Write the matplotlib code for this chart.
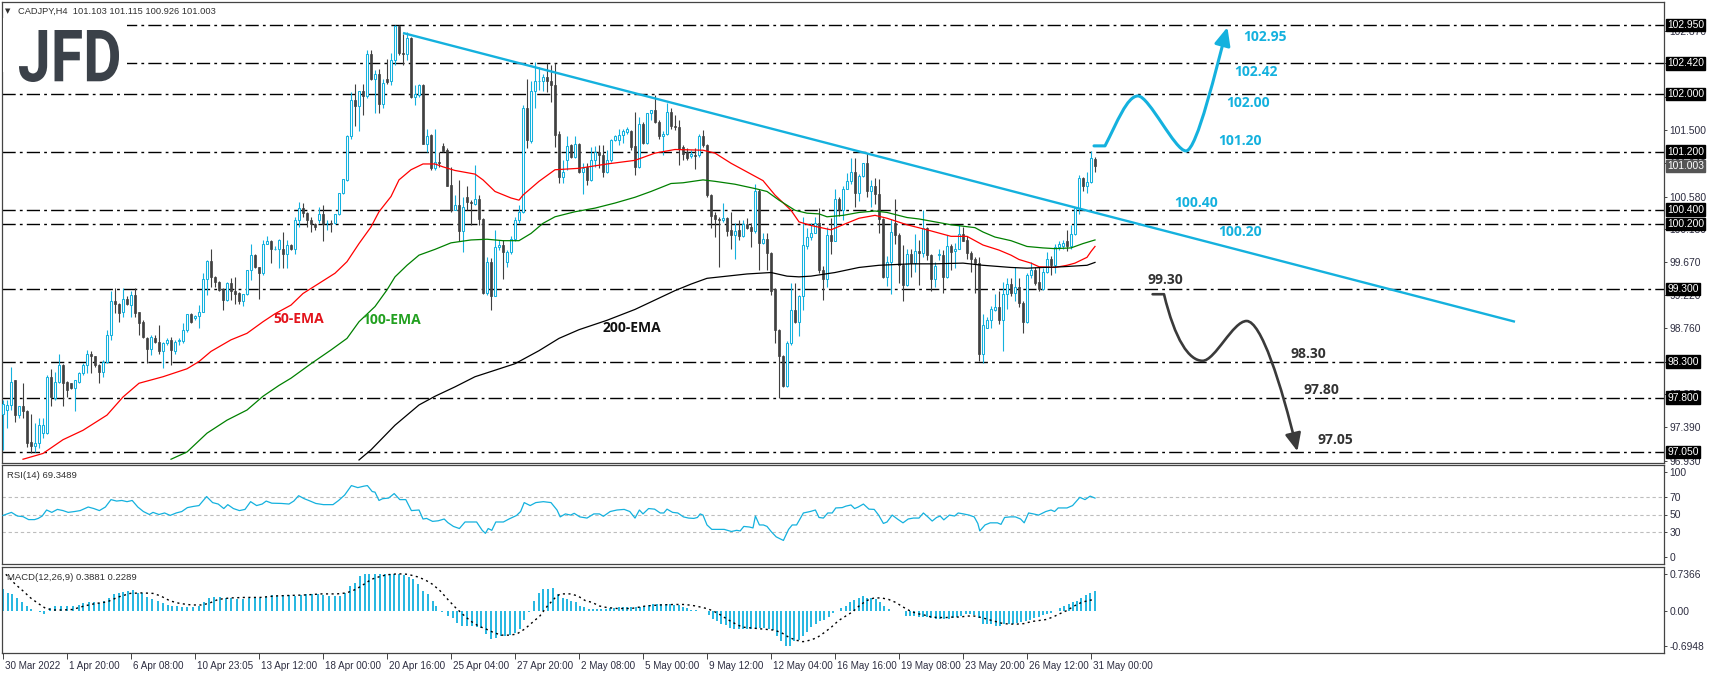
import matplotlib
matplotlib.use("Agg")
import matplotlib.pyplot as plt
import numpy as np
from matplotlib.path import Path
from matplotlib.patches import FancyArrowPatch, PathPatch, Rectangle
from matplotlib.textpath import TextPath
from matplotlib.font_manager import FontProperties
from matplotlib.transforms import Affine2D, ScaledTranslation

plt.rcParams['font.family'] = ['Liberation Sans', 'DejaVu Sans']

# ---- CADJPY H4 candles (bar index 0 = 30 Mar 2022) ----
opens = [97.58, 97.63, 97.70, 98.04, 97.56, 97.68, 97.62, 97.19, 97.13, 97.17,
         97.31, 97.31, 98.09, 97.79, 98.02, 98.25, 98.02, 98.00, 97.93, 98.02,
         98.14, 98.25, 98.41, 98.37, 98.25, 98.16, 98.30, 98.67, 99.13, 99.10,
         98.98, 99.17, 99.08, 99.22, 98.98, 98.84, 98.63, 98.48, 98.63, 98.57,
         98.44, 98.55, 98.60, 98.44, 98.58, 98.59, 98.73, 98.96, 98.90, 98.93,
         98.99, 99.44, 99.69, 99.47, 99.40, 99.30, 99.15, 99.39, 99.28, 99.25,
         99.13, 99.23, 99.56, 99.77, 99.60, 99.52, 99.93, 99.97, 99.85, 99.85,
         99.86, 99.79, 99.91, 99.86, 100.26, 100.42, 100.35, 100.26, 100.20, 100.25,
         100.34, 100.21, 100.21, 100.21, 100.34, 100.63, 100.81, 101.42, 101.92, 101.83,
         102.04, 101.97, 102.55, 102.20, 102.27, 101.86, 102.21, 102.17, 102.47, 102.94,
         102.56, 102.55, 102.77, 101.95, 101.98, 102.12, 101.31, 101.43, 100.97, 101.06,
         101.28, 101.22, 100.74, 100.40, 100.46, 100.10, 100.57, 100.50, 100.48, 100.54,
         100.27, 99.25, 99.68, 99.21, 99.88, 99.91, 99.68, 99.82, 100.00, 100.26,
         100.37, 101.81, 101.35, 102.04, 102.17, 102.18, 102.23, 102.17, 102.12, 101.44,
         100.85, 101.09, 101.29, 101.12, 101.31, 100.92, 100.99, 100.81, 101.09, 101.19,
         101.15, 100.92, 101.08, 101.36, 101.36, 101.43, 101.47, 101.48, 101.28, 100.99,
         101.58, 101.32, 101.73, 101.77, 101.61, 101.41, 101.45, 101.75, 101.55, 101.54,
         101.26, 101.19, 101.14, 101.15, 101.15, 101.42, 101.29, 100.60, 100.33, 100.27,
         100.26, 100.28, 100.12, 100.05, 100.12, 100.03, 100.20, 100.16, 100.11, 100.65,
         99.94, 100.00, 99.80, 99.30, 98.74, 98.38, 97.96, 98.55, 99.01, 98.85,
         99.20, 99.89, 100.02, 100.07, 100.22, 99.56, 99.44, 100.05, 99.97, 100.54,
         100.39, 100.69, 100.79, 100.92, 100.63, 100.86, 101.04, 100.65, 100.73, 100.62,
         100.27, 99.47, 99.68, 100.21, 100.05, 99.63, 99.36, 99.79, 99.66, 99.83,
         99.80, 100.15, 99.77, 99.44, 99.77, 99.77, 99.47, 99.90, 99.83, 99.86,
         100.06, 99.98, 99.80, 99.71, 99.66, 98.40, 98.77, 98.87, 99.01, 99.05,
         98.88, 99.24, 99.37, 99.25, 99.33, 99.11, 98.84, 99.50, 99.57, 99.40,
         99.30, 99.54, 99.71, 99.63, 99.88, 99.89, 99.96, 99.90, 100.06, 100.42,
         100.83, 100.73, 100.78, 101.10]
highs = [97.77, 97.77, 98.23, 98.05, 97.68, 98.00, 97.63, 97.58, 97.45, 97.52,
         97.52, 98.11, 98.20, 98.16, 98.41, 98.26, 98.03, 98.01, 98.04, 98.15,
         98.28, 98.46, 98.44, 98.38, 98.26, 98.32, 98.74, 99.27, 99.31, 99.11,
         99.31, 99.20, 99.27, 99.31, 98.99, 98.87, 98.64, 98.67, 98.67, 98.80,
         98.57, 98.62, 98.64, 98.60, 98.62, 98.83, 98.96, 98.97, 98.94, 99.08,
         99.52, 99.70, 99.85, 99.48, 99.41, 99.31, 99.40, 99.45, 99.47, 99.26,
         99.24, 99.57, 99.92, 99.78, 99.61, 99.98, 100.03, 99.98, 99.89, 100.00,
         100.09, 99.98, 99.93, 100.30, 100.51, 100.49, 100.36, 100.30, 100.21, 100.44,
         100.46, 100.26, 100.26, 100.34, 100.63, 100.82, 101.43, 102.03, 102.14, 102.04,
         102.14, 102.61, 102.60, 102.33, 102.34, 102.20, 102.48, 102.57, 102.95, 102.95,
         102.83, 102.86, 102.79, 102.12, 102.14, 102.13, 101.52, 101.45, 101.52, 101.20,
         101.32, 101.25, 100.99, 100.60, 100.81, 100.58, 100.72, 100.53, 101.02, 100.60,
         100.28, 99.74, 99.73, 100.12, 99.98, 99.98, 99.84, 100.03, 100.30, 100.46,
         101.84, 102.21, 102.17, 102.44, 102.37, 102.28, 102.42, 102.40, 102.42, 101.48,
         101.08, 101.41, 101.31, 101.41, 101.32, 101.04, 101.04, 101.27, 101.28, 101.29,
         101.29, 101.22, 101.38, 101.43, 101.51, 101.51, 101.54, 101.50, 101.75, 101.68,
         101.61, 101.74, 101.78, 101.98, 101.64, 101.48, 101.87, 101.80, 101.71, 101.64,
         101.29, 101.25, 101.22, 101.25, 101.45, 101.50, 101.30, 100.61, 100.37, 100.30,
         100.49, 100.30, 100.36, 100.22, 100.26, 100.26, 100.28, 100.21, 100.75, 100.69,
         100.07, 100.07, 99.81, 99.31, 98.75, 98.39, 98.59, 99.38, 99.38, 99.22,
         100.30, 100.14, 100.22, 100.30, 100.42, 99.62, 100.16, 100.28, 100.69, 100.58,
         100.72, 100.90, 101.11, 101.11, 100.89, 101.05, 101.18, 100.81, 100.83, 100.82,
         100.28, 99.76, 100.27, 100.55, 100.07, 99.91, 99.85, 99.86, 100.06, 99.98,
         100.39, 100.16, 99.79, 99.68, 99.86, 99.84, 100.05, 99.92, 99.94, 100.19,
         100.16, 100.03, 99.83, 99.74, 99.74, 98.96, 98.92, 99.07, 99.24, 99.28,
         99.40, 99.46, 99.46, 99.61, 99.46, 99.14, 99.53, 99.67, 99.61, 99.61,
         99.59, 99.82, 99.76, 99.92, 99.96, 99.98, 100.12, 100.19, 100.44, 100.88,
         100.85, 100.92, 101.21, 101.13]
lows = [97.08, 97.38, 97.63, 97.47, 97.52, 97.52, 97.12, 97.03, 97.05, 97.10,
        97.24, 97.30, 97.68, 97.77, 98.00, 97.68, 97.81, 97.92, 97.61, 98.00,
        98.11, 98.14, 98.14, 98.23, 98.00, 98.09, 98.28, 98.60, 98.97, 98.85,
        98.92, 99.08, 98.92, 98.92, 98.67, 98.63, 98.28, 98.39, 98.55, 98.41,
        98.21, 98.53, 98.25, 98.41, 98.53, 98.55, 98.71, 98.83, 98.87, 98.76,
        98.98, 99.22, 99.33, 99.33, 99.27, 99.01, 99.14, 99.15, 99.10, 99.10,
        99.07, 99.22, 99.43, 99.59, 99.16, 99.50, 99.92, 99.66, 99.84, 99.59,
        99.59, 99.59, 99.84, 99.79, 100.16, 100.30, 100.16, 100.09, 100.12, 100.21,
        99.96, 100.12, 100.09, 100.20, 100.33, 100.62, 100.79, 101.38, 101.55, 101.48,
        101.71, 101.94, 102.19, 101.73, 101.73, 101.80, 102.14, 102.12, 102.40, 102.54,
        102.40, 102.47, 101.94, 101.84, 101.96, 101.30, 101.20, 100.94, 100.95, 100.99,
        101.20, 100.72, 100.37, 100.39, 99.96, 99.81, 100.39, 100.19, 100.46, 100.19,
        99.23, 99.22, 99.01, 99.20, 99.84, 99.44, 99.61, 99.79, 99.96, 100.21,
        100.35, 101.25, 101.32, 101.80, 102.05, 102.04, 102.03, 101.89, 101.27, 100.77,
        100.77, 100.95, 101.11, 101.11, 100.91, 100.61, 100.74, 100.80, 100.99, 100.97,
        100.85, 100.90, 101.06, 101.35, 101.29, 101.32, 101.45, 101.22, 100.88, 100.97,
        101.31, 101.31, 101.64, 101.60, 101.38, 101.15, 101.43, 101.52, 101.50, 101.02,
        101.08, 101.08, 101.11, 100.96, 101.13, 101.27, 100.58, 100.15, 100.02, 99.60,
        100.23, 100.03, 99.85, 99.71, 99.98, 100.02, 100.13, 99.88, 100.08, 99.57,
        99.92, 99.57, 99.22, 98.55, 97.79, 97.95, 97.95, 98.53, 98.83, 98.65,
        99.01, 99.86, 99.98, 100.07, 99.52, 99.15, 99.33, 99.79, 99.96, 100.31,
        100.26, 100.68, 100.76, 100.43, 100.52, 100.85, 100.57, 100.43, 100.48, 100.07,
        99.45, 99.34, 99.23, 99.92, 99.39, 99.13, 99.34, 99.47, 99.54, 99.36,
        99.75, 99.70, 99.27, 99.33, 99.70, 99.25, 99.46, 99.56, 99.59, 99.85,
        99.96, 99.71, 99.54, 99.25, 98.31, 98.28, 98.76, 98.76, 99.00, 98.82,
        98.45, 99.02, 99.21, 99.13, 99.05, 98.69, 98.83, 99.46, 99.36, 99.28,
        99.29, 99.52, 99.50, 99.53, 99.84, 99.86, 99.83, 99.85, 100.05, 100.34,
        100.65, 100.63, 100.77, 100.92]
closes = [97.72, 97.70, 98.02, 97.56, 97.68, 97.61, 97.17, 97.13, 97.18, 97.42,
          97.42, 98.09, 97.81, 98.02, 98.25, 98.00, 97.91, 97.93, 98.04, 98.14,
          98.25, 98.41, 98.37, 98.25, 98.16, 98.30, 98.67, 99.13, 99.10, 98.97,
          99.17, 99.10, 99.22, 98.97, 98.83, 98.64, 98.48, 98.64, 98.57, 98.44,
          98.55, 98.60, 98.46, 98.57, 98.60, 98.73, 98.96, 98.85, 98.93, 98.99,
          99.44, 99.69, 99.47, 99.40, 99.29, 99.15, 99.39, 99.27, 99.23, 99.14,
          99.23, 99.56, 99.77, 99.60, 99.52, 99.93, 99.97, 99.85, 99.86, 99.98,
          99.79, 99.91, 99.86, 100.26, 100.42, 100.35, 100.26, 100.20, 100.16, 100.34,
          100.20, 100.21, 100.20, 100.34, 100.63, 100.82, 101.42, 101.92, 101.83, 102.04,
          101.97, 102.55, 102.20, 102.27, 101.86, 102.15, 102.16, 102.47, 102.94, 102.56,
          102.55, 102.77, 101.95, 102.00, 102.12, 101.31, 101.42, 100.97, 101.06, 101.04,
          101.21, 100.73, 100.40, 100.46, 100.10, 100.44, 100.50, 100.49, 100.54, 100.27,
          99.25, 99.68, 99.21, 99.88, 99.91, 99.81, 99.81, 100.00, 100.26, 100.37,
          101.81, 101.36, 102.04, 102.18, 102.18, 102.23, 102.17, 102.12, 101.43, 100.85,
          100.92, 101.28, 101.12, 101.31, 100.92, 100.98, 100.81, 101.09, 101.19, 101.15,
          100.92, 101.09, 101.36, 101.41, 101.43, 101.48, 101.51, 101.27, 100.99, 101.58,
          101.32, 101.73, 101.77, 101.61, 101.41, 101.45, 101.75, 101.55, 101.54, 101.23,
          101.17, 101.11, 101.17, 101.14, 101.42, 101.29, 100.60, 100.31, 100.27, 100.26,
          100.28, 100.11, 100.05, 100.11, 100.03, 100.20, 100.15, 100.11, 100.65, 99.94,
          100.00, 99.80, 99.27, 98.74, 98.37, 97.96, 98.56, 99.01, 98.85, 99.20,
          99.91, 100.02, 100.08, 100.21, 99.56, 99.44, 100.05, 99.97, 100.54, 100.39,
          100.69, 100.79, 100.92, 100.63, 100.86, 101.04, 100.65, 100.73, 100.62, 100.27,
          99.47, 99.68, 100.09, 100.05, 99.63, 99.36, 99.78, 99.66, 99.83, 99.80,
          100.14, 99.77, 99.44, 99.62, 99.78, 99.47, 99.90, 99.82, 99.86, 100.06,
          99.97, 99.80, 99.71, 99.66, 98.40, 98.80, 98.88, 99.02, 99.05, 98.88,
          99.24, 99.37, 99.25, 99.33, 99.11, 98.84, 99.50, 99.57, 99.39, 99.30,
          99.54, 99.71, 99.63, 99.88, 99.92, 99.94, 99.90, 100.06, 100.42, 100.83,
          100.73, 100.78, 101.11, 101.00]

# ---- moving averages (bar, price) ----
ema50_x = [5, 10, 15, 20, 26, 30, 34, 40, 46, 49, 52, 57, 61, 65, 68, 72, 75, 79, 83, 86,
           89, 92, 94, 97, 99, 102, 105, 108, 110, 113, 118, 120, 123, 127, 129, 130, 134, 138, 144, 151,
           158, 163, 168, 175, 178, 182, 187, 190, 193, 197, 199, 202, 207, 210, 214, 218, 221, 226, 231, 237,
           241, 245, 249, 252, 254, 257, 259, 263, 266, 268, 271, 272, 273]
ema50_y = [96.95, 97.03, 97.22, 97.35, 97.56, 97.81, 98.00, 98.09, 98.20, 98.30, 98.44, 98.60, 98.69, 98.85, 98.96, 99.08, 99.24, 99.38, 99.52, 99.68,
           99.93, 100.16, 100.37, 100.58, 100.81, 100.95, 101.03, 101.03, 100.99, 100.94, 100.89, 100.81, 100.65, 100.56, 100.53, 100.60, 100.79, 100.95, 100.97, 101.03,
           101.08, 101.18, 101.23, 101.22, 101.18, 101.04, 100.89, 100.80, 100.60, 100.39, 100.23, 100.18, 100.12, 100.19, 100.28, 100.32, 100.28, 100.19, 100.12, 100.03,
           100.03, 99.91, 99.84, 99.77, 99.71, 99.66, 99.61, 99.60, 99.63, 99.66, 99.74, 99.82, 99.89]
ema100_x = [42, 46, 51, 56, 61, 65, 69, 72, 77, 82, 86, 89, 93, 96, 98, 101, 104, 108, 112, 117,
            121, 125, 129, 132, 135, 138, 143, 148, 153, 158, 162, 167, 170, 175, 178, 183, 188, 191, 194, 198,
            201, 204, 206, 210, 214, 218, 221, 226, 229, 233, 237, 240, 243, 245, 248, 252, 256, 260, 263, 267,
            270, 273]
ema100_y = [96.95, 97.05, 97.31, 97.49, 97.63, 97.82, 97.97, 98.07, 98.27, 98.46, 98.62, 98.85, 99.06, 99.29, 99.47, 99.63, 99.77, 99.85, 99.94, 99.98,
            99.99, 99.97, 99.97, 100.07, 100.21, 100.30, 100.37, 100.42, 100.49, 100.57, 100.65, 100.76, 100.77, 100.81, 100.79, 100.75, 100.69, 100.65, 100.53, 100.39,
            100.35, 100.34, 100.30, 100.32, 100.36, 100.38, 100.36, 100.29, 100.27, 100.23, 100.19, 100.17, 100.15, 100.09, 100.02, 99.97, 99.89, 99.87, 99.86, 99.87,
            99.93, 99.98]
ema200_x = [89, 92, 98, 104, 108, 113, 118, 123, 128, 134, 139, 144, 151, 158, 163, 168, 172, 176, 181, 186,
            192, 196, 199, 202, 208, 214, 219, 227, 233, 240, 245, 252, 256, 260, 265, 268, 271, 273]
ema200_y = [96.94, 97.08, 97.42, 97.70, 97.82, 97.95, 98.09, 98.18, 98.27, 98.45, 98.62, 98.74, 98.87, 99.02, 99.15, 99.28, 99.37, 99.45, 99.48, 99.51,
            99.53, 99.48, 99.47, 99.48, 99.53, 99.60, 99.63, 99.65, 99.65, 99.66, 99.63, 99.60, 99.59, 99.60, 99.61, 99.62, 99.63, 99.67]

trend_x = [100, 378]
trend_y = [102.84, 98.85]

levels = [102.95, 102.42, 102.00, 101.20, 100.40, 100.20, 99.30, 98.30, 97.80, 97.05]
last_price = 101.003
price_ticks = [96.93, 97.39, 97.85, 98.30, 98.76, 99.22, 99.67, 100.13, 100.58, 101.04, 101.50, 101.95, 102.42, 102.87]

# ---- RSI(14) ----
rsi_x = [0, 2.1, 3.6, 5.0, 6.4, 7.9, 8.8, 9.8, 10.9, 12.2, 13.6, 15.0, 16.3, 17.9, 19.3, 21.3, 22.7, 24.1, 25.6, 27.0,
         28.4, 29.7, 31.0, 32.3, 33.7, 35.1, 36.6, 37.5, 39.0, 40.4, 41.8, 43.3, 44.7, 46.1, 47.6, 49.0, 50.9, 52.4, 53.8, 55.2,
         56.2, 57.6, 59.1, 60.5, 61.9, 63.4, 64.8, 65.8, 67.2, 69.6, 71.5, 72.7, 73.9, 75.3, 76.8, 78.2, 80.1, 82.5, 83.9, 85.4,
         87.1, 88.7, 90.2, 91.1, 92.3, 93.0, 94.0, 94.9, 96.4, 97.8, 99.2, 100.7, 102.1, 104.0, 105.0, 105.9, 107.4, 108.8, 110.3, 111.2,
         112.6, 114.1, 115.5, 117.0, 118.4, 119.8, 120.6, 121.3, 122.2, 123.2, 125.1, 126.5, 128.4, 129.4, 130.3, 131.8, 133.2, 135.1, 137.0, 138.5,
         139.3, 140.6, 141.9, 142.8, 144.2, 146.0, 147.7, 149.1, 150.1, 151.8, 153.5, 155.3, 156.7, 158.0, 159.1, 160.0, 161.4, 162.9, 164.3, 165.2,
         166.0, 167.4, 168.7, 170.1, 171.4, 172.7, 173.6, 174.3, 175.0, 176.0, 177.2, 178.5, 180.3, 182.1, 183.4, 184.3, 185.2, 186.6, 187.5, 188.1,
         189.1, 190.1, 191.0, 192.1, 193.3, 195.1, 196.4, 197.3, 198.4, 200.1, 201.8, 203.1, 204.0, 205.1, 206.2, 207.3, 208.2, 209.8, 210.7, 212.0,
         212.9, 213.8, 215.1, 216.5, 217.8, 218.9, 220.1, 221.0, 222.3, 223.6, 225.0, 226.3, 227.6, 229.0, 230.1, 231.2, 232.3, 233.4, 234.3, 235.2,
         236.6, 237.9, 238.8, 240.1, 241.5, 242.8, 243.7, 244.2, 245.5, 246.8, 248.6, 249.5, 250.4, 251.8, 253.1, 254.4, 255.3, 256.4, 257.6, 258.9,
         260.7, 262.0, 262.9, 263.8, 266.0, 267.4, 269.2, 270.5, 271.8, 273]
rsi_y = [48.9, 52.5, 48.2, 47.5, 44.0, 44.0, 45.4, 48.2, 55.3, 52.5, 56.0, 54.6, 52.5, 53.5, 54.6, 58.8, 57.0, 54.6, 58.8, 67.5,
         65.8, 66.5, 65.1, 66.5, 58.8, 53.5, 50.0, 52.5, 50.0, 51.8, 48.9, 51.8, 53.5, 58.1, 59.5, 60.5, 71.1, 64.0, 62.3, 57.0,
         61.6, 57.0, 54.6, 56.0, 65.1, 60.5, 62.3, 65.8, 63.3, 63.0, 62.3, 65.8, 72.1, 68.6, 65.8, 63.0, 61.6, 61.6, 66.5, 72.8,
         84.0, 81.6, 83.3, 84.0, 77.0, 76.3, 66.5, 68.6, 69.3, 74.6, 67.5, 67.5, 54.6, 55.3, 44.7, 45.4, 41.9, 42.6, 44.7, 40.5,
         36.0, 33.5, 41.2, 41.2, 41.2, 31.4, 27.9, 33.5, 31.4, 41.2, 41.2, 44.7, 48.9, 53.5, 64.0, 60.5, 64.0, 65.1, 64.0, 55.3,
         47.2, 50.7, 49.3, 51.4, 47.2, 45.8, 50.7, 50.7, 47.9, 53.5, 55.3, 56.0, 53.5, 45.8, 55.3, 50.7, 57.0, 56.3, 51.8, 51.8,
         56.3, 52.5, 51.8, 47.2, 45.8, 45.4, 46.5, 50.7, 49.3, 37.7, 32.5, 32.5, 32.5, 30.0, 31.4, 30.7, 36.0, 35.3, 34.2, 48.2,
         37.7, 37.7, 36.0, 29.6, 23.7, 19.5, 32.5, 37.7, 37.7, 51.8, 53.5, 55.3, 46.5, 45.8, 51.8, 51.8, 57.7, 58.1, 59.8, 61.2,
         57.0, 58.8, 62.3, 56.3, 56.0, 49.3, 39.5, 41.2, 49.3, 44.7, 40.2, 44.7, 45.8, 45.8, 51.8, 47.2, 42.3, 46.5, 48.2, 43.7,
         49.3, 48.2, 51.8, 50.7, 49.3, 47.2, 39.5, 30.7, 37.7, 40.2, 40.2, 38.4, 46.5, 47.2, 47.2, 44.7, 40.2, 51.8, 50.7, 49.3,
         53.5, 55.3, 53.5, 57.7, 57.7, 60.5, 70.2, 67.5, 71.6, 69.3]

# ---- MACD(12,26,9) ----
macd_x = [0.0, 1.2, 2.3, 3.6, 4.8, 5.9, 7.1, 8.3, 9.3, 10.3, 11.7, 13.1, 14.6, 16.0, 17.4, 18.9, 20.1, 21.5, 22.7, 23.9,
          25.3, 26.5, 27.8, 28.9, 30.1, 31.3, 32.6, 33.7, 34.8, 36.1, 37.3, 38.7, 39.9, 41.2, 42.3, 43.5, 44.7, 46.1, 47.6, 49.0,
          50.3, 51.4, 52.8, 54.3, 55.7, 57.1, 58.6, 60.0, 61.4, 62.9, 64.3, 65.8, 67.2, 68.6, 70.1, 71.5, 72.9, 74.4, 75.8, 77.2,
          78.7, 80.1, 81.5, 83.0, 84.2, 85.6, 86.8, 88.1, 89.2, 90.6, 91.6, 93.0, 94.3, 95.4, 96.7, 97.8, 99.1, 100.2, 101.4, 102.6,
          103.7, 105.0, 106.2, 107.4, 108.3, 109.8, 111.2, 112.4, 113.6, 114.8, 116.0, 117.2, 118.4, 119.6, 120.8, 122.0, 123.2, 124.4, 125.6, 126.8,
          127.9, 129.2, 130.3, 131.6, 132.7, 134.0, 135.1, 136.3, 137.5, 138.8,
          140.0, 141.0, 142.1, 143.2, 144.3, 145.3, 146.4, 147.5, 148.5, 149.6, 150.7, 151.8, 152.8, 153.9, 155.0, 156.0, 157.1, 158.2, 159.3, 160.3,
          161.4, 162.5, 163.5, 164.6, 165.7, 166.8, 167.8, 168.9, 170.0, 171.0, 172.1, 173.2, 174.3, 175.3, 176.4, 177.5, 178.5, 179.6, 180.7, 181.8,
          182.8, 183.9, 185.0, 186.0, 187.1, 188.2, 189.3, 190.3, 191.4, 192.5, 193.5, 194.6, 195.7, 196.8, 197.8, 198.9, 200.0, 201.0, 202.1, 203.2,
          204.3, 205.3, 206.4, 207.5, 208.5, 209.6, 210.7, 211.8, 212.8, 213.9, 215.0, 216.0, 217.1, 218.2, 219.3, 220.3, 221.4, 222.5, 223.5, 224.6,
          225.7, 226.8, 227.8, 228.9, 230.0, 231.0, 232.1, 233.2, 234.3, 235.3, 236.4, 237.5, 238.5, 239.6, 240.7, 241.8, 242.8, 243.9, 245.0, 246.0,
          247.1, 248.2, 249.3, 250.3, 251.4, 252.5, 253.5, 254.6, 255.7, 256.8, 257.8, 258.9, 260.0, 261.0, 262.1, 263.2, 264.3, 265.3, 266.4, 267.5,
          268.5, 269.6, 270.7, 271.8, 273.0]
macd_h = [0.43, 0.35, 0.33, 0.25, 0.17, 0.10, 0.03, 0.01, -0.02, -0.05, 0.05, 0.09, 0.09, 0.10, 0.10, 0.11, 0.15, 0.18, 0.17, 0.15,
          0.20, 0.26, 0.33, 0.36, 0.38, 0.40, 0.41, 0.36, 0.35, 0.28, 0.23, 0.20, 0.15, 0.11, 0.10, 0.09, 0.07, 0.07, 0.07, 0.10,
          0.18, 0.26, 0.28, 0.28, 0.26, 0.25, 0.23, 0.23, 0.25, 0.25, 0.26, 0.28, 0.31, 0.30, 0.31, 0.31, 0.30, 0.31, 0.33, 0.33,
          0.33, 0.31, 0.30, 0.30, 0.30, 0.36, 0.50, 0.56, 0.70, 0.74, 0.74, 0.74, 0.74, 0.73, 0.73, 0.73, 0.73, 0.71, 0.68, 0.63,
          0.53, 0.40, 0.33, 0.20, 0.10, -0.01, -0.09, -0.13, -0.23, -0.30, -0.30, -0.30, -0.31, -0.33, -0.46, -0.56, -0.53, -0.50, -0.50, -0.48,
          -0.44, -0.35, -0.17, -0.01, 0.20, 0.36, 0.43, 0.44, 0.46, 0.33,
          0.25, 0.23, 0.20, 0.18, 0.10, 0.08, 0.03, 0.03, 0.03, 0.03, 0.03, 0.05, 0.05, 0.07, 0.07, 0.08, 0.08, 0.07, 0.08, 0.10,
          0.12, 0.13, 0.13, 0.13, 0.13, 0.13, 0.12, 0.12, 0.08, 0.05, 0.02, 0.02, 0.005, 0.005, -0.07, -0.15, -0.20, -0.25, -0.28, -0.34,
          -0.36, -0.36, -0.35, -0.35, -0.35, -0.35, -0.34, -0.34, -0.36, -0.38, -0.50, -0.60, -0.69, -0.69, -0.60, -0.58, -0.50, -0.41, -0.32, -0.25,
          -0.20, -0.17, -0.12, -0.03, 0.01, 0.05, 0.10, 0.17, 0.21, 0.25, 0.30, 0.26, 0.26, 0.23, 0.17, 0.10, 0.03, 0.01, 0.01, -0.005,
          -0.10, -0.10, -0.10, -0.12, -0.12, -0.12, -0.13, -0.15, -0.15, -0.15, -0.15, -0.13, -0.12, -0.10, -0.05, -0.05, -0.07, -0.13, -0.25, -0.26,
          -0.26, -0.30, -0.30, -0.26, -0.25, -0.25, -0.23, -0.21, -0.19, -0.17, -0.13, -0.12, -0.08, -0.05, -0.03, 0.005, 0.05, 0.10, 0.13, 0.17,
          0.20, 0.26, 0.31, 0.35, 0.39]
sig_x = [0.7, 3.1, 5.0, 6.9, 8.8, 10.7, 12.6, 15.0, 17.4, 20.3, 23.2, 26.0, 28.9, 31.8, 34.7, 37.5, 39.4, 41.8, 44.2, 47.1,
         49.5, 51.4, 53.8, 56.7, 60.5, 64.3, 68.2, 72.0, 75.8, 79.6, 83.5, 85.9, 88.2, 90.2, 92.1, 94.0, 95.9, 98.8, 101.2, 103.6,
         105.5, 107.4, 109.3, 111.2, 113.1, 115.0, 116.9, 118.9, 120.8, 122.7, 124.6, 126.5, 128.4, 130.4, 132.3, 134.2, 136.1, 138.0, 139.3, 141.9,
         143.7, 145.5, 147.3, 149.1, 150.9, 153.5, 157.1, 160.7, 164.3, 167.8, 170.5, 173.2, 175.9, 177.6, 179.4, 181.2, 183.0, 184.8, 187.5, 190.1,
         192.8, 194.6, 196.4, 198.2, 200.0, 201.8, 203.5, 205.3, 207.1, 208.9, 210.7, 212.5, 214.3, 216.0, 217.8, 219.6, 221.4, 223.2, 225.0, 226.8,
         228.5, 230.3, 232.1, 233.9, 235.7, 237.5, 239.3, 241.0, 242.8, 244.6, 246.4, 248.2, 250.0, 251.8, 253.5, 255.3, 257.1, 258.9, 260.7, 262.5,
         264.3, 266.0, 267.8, 269.6, 271.4, 273.0]
sig_y = [0.73, 0.53, 0.40, 0.26, 0.15, 0.05, 0.02, 0.02, 0.03, 0.10, 0.15, 0.18, 0.28, 0.35, 0.36, 0.35, 0.30, 0.20, 0.15, 0.12,
         0.12, 0.15, 0.23, 0.26, 0.27, 0.27, 0.30, 0.31, 0.32, 0.34, 0.34, 0.36, 0.43, 0.53, 0.63, 0.68, 0.72, 0.74, 0.73, 0.68,
         0.62, 0.53, 0.40, 0.23, 0.07, -0.07, -0.20, -0.30, -0.36, -0.43, -0.48, -0.48, -0.46, -0.36, -0.23, -0.10, 0.10, 0.26, 0.34, 0.34,
         0.30, 0.21, 0.17, 0.10, 0.07, 0.05, 0.05, 0.10, 0.12, 0.13, 0.13, 0.10, 0.05, 0.00, -0.08, -0.17, -0.25, -0.32, -0.34, -0.36,
         -0.38, -0.43, -0.52, -0.58, -0.61, -0.58, -0.53, -0.43, -0.32, -0.19, -0.10, -0.01, 0.12, 0.21, 0.26, 0.26, 0.23, 0.17, 0.08, 0.00,
         -0.05, -0.08, -0.12, -0.13, -0.13, -0.12, -0.12, -0.10, -0.10, -0.13, -0.17, -0.21, -0.25, -0.26, -0.26, -0.25, -0.21, -0.19, -0.17, -0.12,
         -0.05, 0.01, 0.10, 0.17, 0.21, 0.23]

date_labels = ['30 Mar 2022', '1 Apr 20:00', '6 Apr 08:00', '10 Apr 23:05', '13 Apr 12:00', '18 Apr 00:00',
               '20 Apr 16:00', '25 Apr 04:00', '27 Apr 20:00', '2 May 08:00', '5 May 00:00', '9 May 12:00',
               '12 May 04:00', '16 May 16:00', '19 May 08:00', '23 May 20:00', '26 May 12:00', '31 May 00:00']
date_bars = [16 * i for i in range(len(date_labels))]

# ---- scenario drawings (bar, price control points) ----
up_path = [(272.75, 101.28), (275.5, 101.28), (278.5, 101.6), (281.0, 101.97), (283.75, 101.97),
           (286.5, 101.97), (293.0, 101.21), (295.75, 101.21), (298.5, 101.21), (303.5, 102.4), (306.1, 102.92)]
down_path = [(287.4, 99.23), (290.25, 99.23), (293.0, 98.6), (296.5, 98.31), (299.9, 98.31),
             (303.0, 98.31), (307.5, 98.86), (310.9, 98.86), (314.5, 98.86), (319.5, 98.0), (323.6, 97.06)]
up_labels = [('102.95', 310.0, 102.79), ('102.42', 307.9, 102.30), ('102.00', 305.9, 101.87),
             ('101.20', 303.9, 101.35), ('100.40', 292.9, 100.49), ('100.20', 303.9, 100.09)]
down_labels = [('99.30', 286.0, 99.43), ('98.30', 321.75, 98.40), ('97.80', 325.0, 97.91), ('97.05', 328.5, 97.21)]
ema_labels = [('50-EMA', 67.5, 98.89, '#E3141C'), ('100-EMA', 89.9, 98.87, '#22A020'), ('200-EMA', 150.0, 98.76, '#111111')]

CYAN = '#14B1DE'
DARK = '#404040'
W, H = 1710, 674
fig = plt.figure(figsize=(W / 100, H / 100), dpi=100)


def px_axes(x0, y0, x1, y1):
    return fig.add_axes([x0 / W, 1 - y1 / H, (x1 - x0) / W, (y1 - y0) / H])


ax = px_axes(2, 2, 1664, 463)
ax_rsi = px_axes(2, 465, 1664, 564)
ax_macd = px_axes(2, 567, 1664, 653)

for a in (ax, ax_rsi, ax_macd):
    a.set_xlim(-0.25, 415.25)
    for s in a.spines.values():
        s.set_color('#444444')
        s.set_linewidth(0.9)
    a.yaxis.tick_right()
    a.tick_params(axis='y', direction='out', length=2.5, width=0.7, pad=1.2,
                  labelsize=7.4, labelcolor='#2d2d40', color='#444444')
    a.tick_params(axis='x', bottom=False, labelbottom=False)

# main price panel
ax.set_ylim(96.898, 103.268)
ax.set_yticks(price_ticks)
ax.set_yticklabels(['%.3f' % t for t in price_ticks])

for lv in levels:
    ax.axhline(lv, color='black', lw=1.0, linestyle=(0, (9.5, 3, 2, 3)), zorder=1)

o, h, l, c = map(np.array, (opens, highs, lows, closes))
idx = np.arange(len(c))
up = c >= o
body_lo = np.minimum(o, c)
body_h = np.maximum(np.abs(c - o), 0.006)
ax.vlines(idx[up], l[up], h[up], color=CYAN, lw=0.8, zorder=3)
ax.vlines(idx[~up], l[~up], h[~up], color=DARK, lw=0.8, zorder=3)
ax.bar(idx[up], body_h[up], bottom=body_lo[up], width=0.5, facecolor='white',
       edgecolor=CYAN, lw=0.75, zorder=4)
ax.bar(idx[~up], body_h[~up], bottom=body_lo[~up], width=0.62, facecolor=DARK,
       edgecolor=DARK, lw=0.5, zorder=4)

ax.plot(ema50_x, ema50_y, color='#FF0000', lw=0.9, zorder=5)
ax.plot(ema100_x, ema100_y, color='#008000', lw=0.9, zorder=5)
ax.plot(ema200_x, ema200_y, color='black', lw=0.9, zorder=5)
ax.plot(trend_x, trend_y, color=CYAN, lw=1.7, zorder=6, solid_capstyle='butt')

for txt, x, y, col in ema_labels:
    ax.text(x, y, txt, color=col, fontsize=10, fontweight='bold', family='Open Sans',
            ha='left', va='center', zorder=7)


def bezier(points):
    codes = [Path.MOVETO, Path.LINETO] + [Path.CURVE4] * (len(points) - 2)
    return Path(points, codes)


ax.add_patch(FancyArrowPatch(path=bezier(up_path), arrowstyle='-|>,head_length=0.45,head_width=0.2',
                             mutation_scale=24, color=CYAN, lw=2.2, zorder=8, clip_on=False))
ax.add_patch(FancyArrowPatch(path=bezier(down_path), arrowstyle='-|>,head_length=0.45,head_width=0.2',
                             mutation_scale=24, color='#3a3a3a', lw=1.9, zorder=8, clip_on=False))
for txt, x, y in up_labels:
    ax.text(x, y, txt, color=CYAN, fontsize=10, fontweight='bold', family='Open Sans',
            ha='left', va='center', zorder=9)
for txt, x, y in down_labels:
    ax.text(x, y, txt, color='#333333', fontsize=10, fontweight='bold', family='Open Sans',
            ha='left', va='center', zorder=9)

# level boxes on the price scale
for lv in levels:
    ax.annotate('%.3f' % lv, xy=(1, lv), xycoords=('axes fraction', 'data'), xytext=(3, 0),
                textcoords='offset pixels', ha='left', va='center', fontsize=7.4, color='white',
                bbox=dict(boxstyle='square,pad=0.12', fc='black', ec='black'), annotation_clip=False, zorder=10)
ax.annotate('%.3f' % last_price, xy=(1, last_price), xycoords=('axes fraction', 'data'), xytext=(3, 0),
            textcoords='offset pixels', ha='left', va='center', fontsize=7.4, color='white',
            bbox=dict(boxstyle='square,pad=0.12', fc='#555555', ec='#555555'), annotation_clip=False, zorder=10)

# RSI panel
ax_rsi.set_ylim(-8.2, 108.2)
ax_rsi.set_yticks([0, 30, 50, 70, 100])
ax_rsi.set_yticklabels(['0', '30', '50', '70', '100'])
for lv in (30, 50, 70):
    ax_rsi.axhline(lv, color='#bdbdbd', lw=0.8, linestyle=(0, (3, 2.5)), zorder=1)
ax_rsi.plot(rsi_x, rsi_y, color=CYAN, lw=0.9, zorder=3)

# MACD panel
ax_macd.set_ylim(-0.835, 0.875)
ax_macd.set_yticks([-0.6948, 0.0, 0.7366])
ax_macd.set_yticklabels(['-0.6948', '0.00', '0.7366'])
ax_macd.vlines(macd_x, 0, macd_h, color=CYAN, lw=1.3, zorder=2)
ax_macd.plot(sig_x, sig_y, color='black', lw=1.0, linestyle=(0, (1.5, 2.5)), zorder=3)

ax_macd.tick_params(axis='x', bottom=True, labelbottom=True, direction='out', length=4, width=0.7,
                    color='#444444', labelsize=7.1, labelcolor='#2d2d40', pad=1.5)
ax_macd.set_xticks(date_bars)
ax_macd.set_xticklabels(date_labels)
shift = ScaledTranslation(2 / 100, 0, fig.dpi_scale_trans)
for lab in ax_macd.get_xticklabels():
    lab.set_ha('left')
    lab.set_transform(lab.get_transform() + shift)

# header texts
fig.text(5 / W, 1 - 11 / H, '\u25bc', fontsize=5, va='center', ha='left', color='#303030',
         family=['DejaVu Sans'])
fig.text(18 / W, 1 - 11 / H, 'CADJPY,H4  101.103 101.115 100.926 101.003', fontsize=6.7,
         va='center', ha='left', color='#303030')
fig.text(7 / W, 1 - 475 / H, 'RSI(14) 69.3489', fontsize=6.8, va='center', ha='left', color='#303030')
fig.text(7 / W, 1 - 577 / H, 'MACD(12,26,9) 0.3881 0.2289', fontsize=6.8, va='center', ha='left',
         color='#303030')

# JFD logo
fig.add_artist(Rectangle((3 / W, 1 - 72 / H), 124 / W, 54 / H, transform=fig.transFigure,
                         fc='white', ec='none', zorder=10))
tp = TextPath((0, 0), 'JFD', size=100, prop=FontProperties(family='Roboto', weight='bold'))
bb = tp.get_extents()
logo_t = Affine2D().translate(-bb.x0, -bb.y0).scale(100 / bb.width, 52 / bb.height).translate(19, H - 82)
fig.add_artist(PathPatch(tp, transform=logo_t, fc='#3b4149', ec='none', zorder=11))

fig.savefig('out.png', dpi=100)
